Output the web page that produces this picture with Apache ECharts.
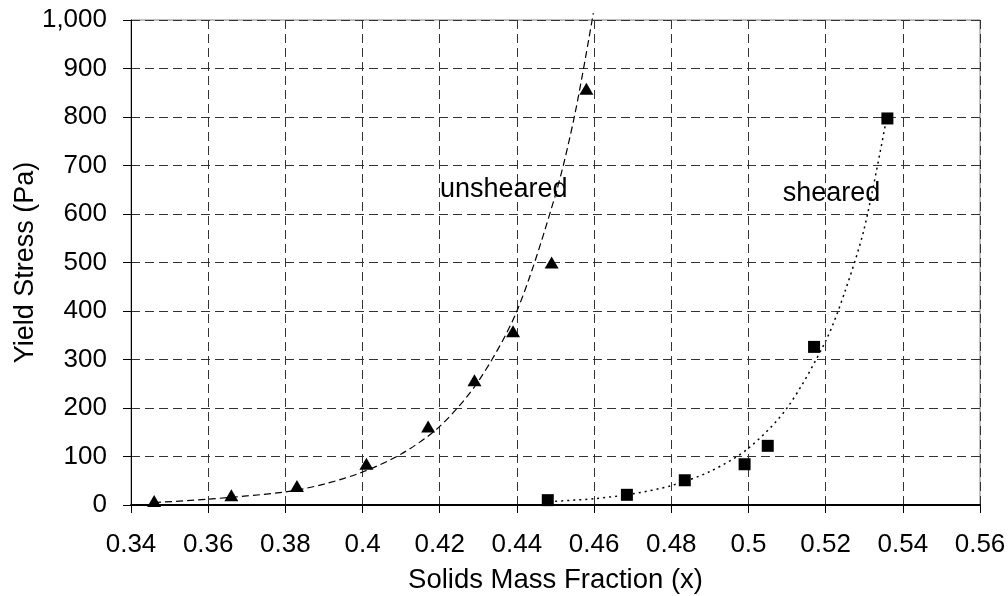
<!DOCTYPE html>
<html>
<head>
<meta charset="utf-8">
<script src="https://cdn.jsdelivr.net/npm/echarts@6/dist/echarts.min.js"></script>
<style>
  html, body { margin: 0; padding: 0; background: #fff; }
  #chart { width: 1008px; height: 596px; }
</style>
</head>
<body>
<div id="chart"></div>
<script>
// measured points
const unshearedX = [0.346, 0.366, 0.383, 0.401, 0.417, 0.429, 0.439, 0.449, 0.458];
const unshearedY = [8, 20, 39, 85, 162, 257, 358, 500, 858];
const shearedX = [0.448, 0.4685, 0.4835, 0.499, 0.505, 0.517, 0.536];
const shearedY = [10, 21, 51, 84, 122, 326, 797];

// trendlines
const unshearedTrendX = [0.346, 0.36, 0.38, 0.39, 0.40, 0.41, 0.42, 0.43, 0.44, 0.45, 0.455, 0.4598];
const unshearedTrendY = [5, 12, 27, 43, 68, 105, 162, 255, 400, 640, 805, 1014];
const shearedTrendX = [0.4484, 0.46, 0.47, 0.48, 0.49, 0.50, 0.51, 0.52, 0.525, 0.53, 0.5355];
const shearedTrendY = [7, 13, 23, 40, 69, 117, 200, 338, 440, 570, 785];

// curve labels
const labelNames = ['unsheared', 'sheared'];
const labelX = [0.4366, 0.5215];
const labelY = [650, 643];

const zip = (xs, ys) => xs.map((x, i) => [x, ys[i]]);
const font = 'Liberation Sans, Arial, sans-serif';

const chart = echarts.init(document.getElementById('chart'));

const option = {
  animation: false,
  backgroundColor: '#fff',
  textStyle: { fontFamily: font },
  grid: {
    left: 131,
    right: 28,
    top: 20,
    bottom: 91,
    outerBoundsMode: 'none',
    show: true,
    borderColor: '#808080',
    borderWidth: 1,
  },
  xAxis: {
    type: 'value',
    min: 0.34,
    max: 0.56,
    interval: 0.02,
    name: 'Solids Mass Fraction (x)',
    nameLocation: 'middle',
    nameGap: 61,
    nameMoveOverlap: false,
    nameTextStyle: { color: '#000', fontSize: 27.5, fontFamily: font },
    axisLine: { show: true, onZero: false, lineStyle: { color: '#000', width: 2 } },
    axisTick: { show: true, length: 8, lineStyle: { color: '#000' } },
    axisLabel: {
      color: '#000',
      fontSize: 26,
      fontFamily: font,
      margin: 27,
      formatter: (v) => String(+v.toFixed(2)),
    },
    splitLine: { show: true, lineStyle: { color: '#333', type: [9, 5], width: 1 } },
  },
  yAxis: {
    type: 'value',
    min: 0,
    max: 1000,
    interval: 100,
    name: 'Yield Stress (Pa)',
    nameLocation: 'middle',
    nameGap: 92,
    nameMoveOverlap: false,
    nameTextStyle: { color: '#000', fontSize: 27, fontFamily: font },
    axisLine: { show: true, lineStyle: { color: '#000', width: 1 } },
    axisTick: { show: true, length: 8, lineStyle: { color: '#000' } },
    axisLabel: {
      color: '#000',
      fontSize: 26,
      fontFamily: font,
      margin: 24,
      formatter: (v) => v.toLocaleString('en-US'),
    },
    splitLine: { show: true, lineStyle: { color: '#333', type: [9, 5], width: 1 } },
  },
  series: [
    {
      name: 'unsheared trend',
      type: 'line',
      data: zip(unshearedTrendX, unshearedTrendY),
      smooth: 0.3,
      showSymbol: false,
      symbol: 'none',
      clip: false,
      lineStyle: { color: '#000', width: 1.2, type: [7, 4] },
      silent: true,
      z: 3,
    },
    {
      name: 'sheared trend',
      type: 'line',
      data: zip(shearedTrendX, shearedTrendY),
      smooth: 0.3,
      showSymbol: false,
      symbol: 'none',
      lineStyle: { color: '#000', width: 1.5, type: [2, 4] },
      silent: true,
      z: 3,
    },
    {
      name: 'unsheared',
      type: 'scatter',
      data: zip(unshearedX, unshearedY),
      symbol: 'triangle',
      symbolSize: [14, 12],
      itemStyle: { color: '#000', opacity: 1 },
      z: 4,
    },
    {
      name: 'sheared',
      type: 'scatter',
      data: zip(shearedX, shearedY),
      symbol: 'rect',
      symbolSize: 12,
      itemStyle: { color: '#000', opacity: 1 },
      z: 4,
    },
    {
      name: 'labels',
      type: 'scatter',
      symbolSize: 0,
      silent: true,
      itemStyle: { opacity: 1 },
      data: labelNames.map((n, i) => ({ name: n, value: [labelX[i], labelY[i]] })),
      label: {
        show: true,
        position: 'inside',
        formatter: '{b}',
        color: '#000',
        fontSize: 27,
        fontFamily: font,
        align: 'center',
        verticalAlign: 'middle',
      },
      z: 5,
    },
  ],
};

chart.setOption(option);
</script>
</body>
</html>
